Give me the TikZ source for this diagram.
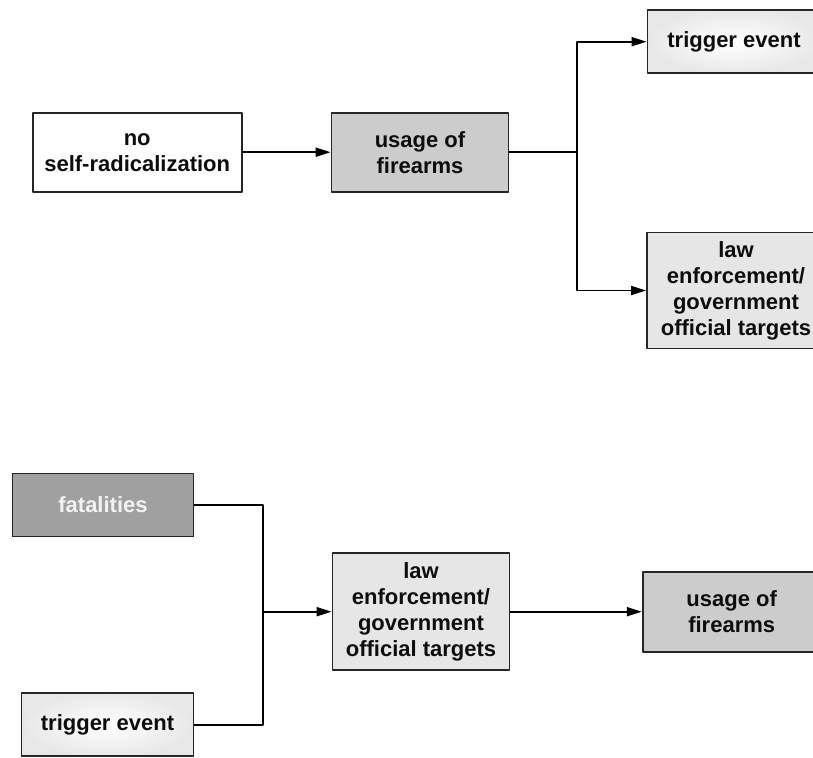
\documentclass[tikz,border=0pt]{standalone}
\usepackage{fontspec}
\setmainfont{Liberation Sans}
\usetikzlibrary{arrows.meta,shadings}
\definecolor{usagegray}{HTML}{CCCCCC}
\definecolor{lawgray}{HTML}{E6E6E6}
\definecolor{fatalgray}{HTML}{A0A0A0}
\tikzset{
  box/.style={draw=black!85,line width=1.8pt,align=center,inner sep=0pt,
    text=black!95,font=\bfseries\fontsize{22}{26}\selectfont},
  usagebox/.style={box,fill=usagegray,minimum width=177pt,minimum height=79pt},
  lawbox/.style={box,fill=lawgray,minimum width=178pt,minimum height=116pt},
  triggerbox/.style={box,shading=radial,inner color=white,outer color=black!9,
    minimum width=173pt,minimum height=63pt},
  link/.style={line width=1.9pt,black},
}
\begin{document}
\begin{tikzpicture}[x=1pt,y=-1pt,>={Triangle[length=15pt,width=9pt]},line join=round]
  \clip (0,0) rectangle (813,757);
  \fill[white] (0,0) rectangle (813,757);
  % upper chain
  \node[box,fill=white,minimum width=209pt,minimum height=79pt] (noself) at (137.2,152.2) {no\\self-radicalization};
  \node[usagebox] (usage1) at (420,152.2) {usage of\\firearms};
  \node[triggerbox] (trigger1) at (734,41.7) {trigger event};
  \node[lawbox] (law1) at (736,290.5) {law\\enforcement/\\government\\official targets};
  \draw[link,->] (noself.east) -- (usage1.west);
  \draw[link] (usage1.east) -- (577,152.2) coordinate (fork);
  \draw[link,->] (fork) |- (trigger1.west);
  \draw[link,->] (fork) |- (law1.west);
  % lower chain
  \node[box,fill=fatalgray,text=white!95!black,minimum width=181pt,minimum height=63pt] (fatal) at (103,505) {fatalities};
  \node[triggerbox,minimum width=172pt] (trigger2) at (107.5,724.8) {trigger event};
  \node[lawbox,minimum width=177pt,minimum height=117pt] (law2) at (421,611.7) {law\\enforcement/\\government\\official targets};
  \node[usagebox,minimum width=178pt,minimum height=80pt] (usage2) at (731.7,611.7) {usage of\\firearms};
  \coordinate (join) at (263.3,611.7);
  \draw[link] (fatal.east) -| (join);
  \draw[link] (trigger2.east) -| (join);
  \draw[link,->] (join) -- (law2.west);
  \draw[link,->] (law2.east) -- (usage2.west);
\end{tikzpicture}
\end{document}
